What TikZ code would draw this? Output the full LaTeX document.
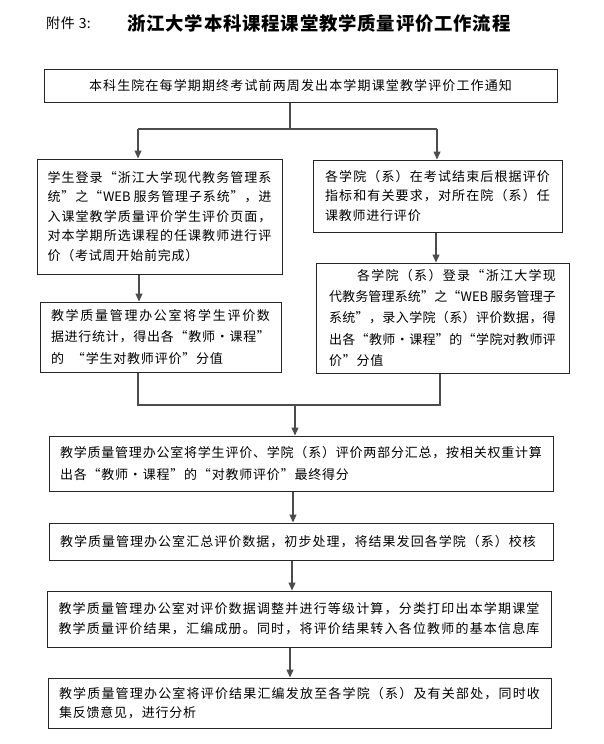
\documentclass[tikz,border=0pt]{standalone}
\usepackage{fontspec}
\setmainfont{Noto Sans CJK SC}
\usetikzlibrary{arrows.meta}
% inter-character glue for CJK text (justification)
\XeTeXinterchartokenstate=1
\newXeTeXintercharclass\myideo
\newXeTeXintercharclass\mypunct
\newcount\myc
\myc="4E00
\loop
  \XeTeXcharclass\myc=\myideo
  \ifnum\myc<"9FFF \advance\myc by 1
\repeat
\XeTeXcharclass"FF08=\mypunct
\XeTeXcharclass"FF09=\mypunct
\XeTeXcharclass"FF0C=\mypunct
\XeTeXcharclass"3001=\mypunct
\XeTeXcharclass"3002=\mypunct
\XeTeXcharclass"201C=\mypunct
\XeTeXcharclass"201D=\mypunct
\XeTeXcharclass"00B7=\mypunct
\def\cjkglue{\hskip0.8pt plus 4pt minus 0.8pt\relax}
\XeTeXinterchartoks\myideo\myideo={\cjkglue}
\XeTeXinterchartoks\myideo\mypunct={\cjkglue}
\XeTeXinterchartoks\mypunct\myideo={\cjkglue}
\XeTeXinterchartoks\mypunct\mypunct={\cjkglue}
\XeTeXinterchartoks 0 \myideo={\cjkglue}
\XeTeXinterchartoks\myideo 0 ={\cjkglue}
\XeTeXinterchartoks 0 \mypunct={\cjkglue}
\XeTeXinterchartoks\mypunct 0 ={\cjkglue}
\newcommand\J[2]{\makebox[#1pt][s]{#2}}
\definecolor{boxline}{gray}{0.15}
\definecolor{connline}{gray}{0.3}
\tikzset{
  box/.style={draw=boxline, line width=1pt, inner sep=0pt, align=left,
    font=\fontsize{13}{19.6}\selectfont},
  conn/.style={draw=connline, line width=1.2pt},
  arr/.style={conn, -{Triangle[length=8pt,width=7pt]}}
}
\begin{document}
\begin{tikzpicture}[x=1pt,y=-1pt]
\useasboundingbox (0,0) rectangle (604,744);
\fill[white] (0,0) rectangle (604,744);
% titles
\node[anchor=west, inner sep=0pt, font=\fontsize{14}{16}\selectfont] (lab) at (46,23) {附件\hspace{4pt}3:};
\node[inner sep=0pt, font=\fontsize{18.4}{22}\selectfont\bfseries] (title) at (319,23) {浙江大学本科课程课堂教学质量评价工作流程};
% boxes
\node[box, minimum width=513, minimum height=33] (n1) at (300.5,85.5)
  {\J{423}{本科生院在每学期期终考试前两周发出本学期课堂教学评价工作通知}};
\node[box, minimum width=245, minimum height=115] (A) at (159.5,216.5)
  {\J{224}{学生登录“浙江大学现代教务管理系}\\
   \J{224}{统”之“WEB 服务管理子系统”，进}\\
   \J{224}{入课堂教学质量评价学生评价页面，}\\
   \J{224}{对本学期所选课程的任课教师进行评}\\
   价（考试周开始前完成）};
\node[box, minimum width=249, minimum height=72] (B) at (437.5,196)
  {\J{225}{各学院（系）在考试结束后根据评价}\\
   \J{225}{指标和有关要求，对所在院（系）任}\\
   课教师进行评价};
\node[box, minimum width=241, minimum height=70, font=\fontsize{13}{21.4}\selectfont] (C) at (160.5,337)
  {\J{219}{教学质量管理办公室将学生评价数}\\
   \J{219}{据进行统计，得出各“教师·课程”}\\
   的\hspace{8pt}“学生对教师评价”分值};
\node[box, minimum width=253, minimum height=110, font=\fontsize{13}{21.3}\selectfont] (D) at (442.5,318)
  {\hspace*{28pt}\J{199}{各学院（系）登录“浙江大学现}\\
   \J{227}{代教务管理系统”之“WEB 服务管理子}\\
   \J{227}{系统”，录入学院（系）评价数据，得}\\
   \J{227}{出各“教师·课程”的“学院对教师评}\\
   价”分值};
\node[box, minimum width=504, minimum height=55, font=\fontsize{13}{22}\selectfont] (E) at (301,463.5)
  {\J{482}{教学质量管理办公室将学生评价、学院（系）评价两部分汇总，按相关权重计算}\\
   出各“教师·课程”的“对教师评价”最终得分};
\node[box, minimum width=504, minimum height=37] (F) at (301,541.5)
  {\makebox[482pt][l]{\J{476}{教学质量管理办公室汇总评价数据，初步处理，将结果发回各学院（系）校核}}};
\node[box, minimum width=504, minimum height=56, font=\fontsize{13}{20}\selectfont] (G) at (299,619)
  {\J{481}{教学质量管理办公室对评价数据调整并进行等级计算，分类打印出本学期课堂}\\
   \J{481}{教学质量评价结果，汇编成册。同时，将评价结果转入各位教师的基本信息库}};
\node[box, minimum width=503, minimum height=50, font=\fontsize{13}{19.5}\selectfont] (H) at (299.5,703)
  {\J{481}{教学质量管理办公室将评价结果汇编发放至各学院（系）及有关部处，同时收}\\
   集反馈意见，进行分析};
% connectors
\coordinate (j1) at (290,129);
\coordinate (jL) at (138,129);
\coordinate (jR) at (437,129);
\draw[conn] (n1.south -| j1) -- (j1);
\draw[conn] (jL) -- (jR);
\draw[arr] (jL) -- (jL |- A.north);
\draw[arr] (jR) -- (jR |- B.north);
\coordinate (xBD) at (436,0);
\draw[arr] (xBD |- B.south) -- (xBD |- D.north);
\coordinate (xAC) at (139,0);
\draw[arr] (xAC |- A.south) -- (xAC |- C.north);
\coordinate (mL) at (138,405);
\coordinate (mR) at (440,405);
\coordinate (mM) at (295,405);
\draw[conn] (mL |- C.south) -- (mL) -- (mR) -- (mR |- D.south);
\draw[arr] (mM) -- (mM |- E.north);
\coordinate (xEF) at (293,0);
\draw[arr] (xEF |- E.south) -- (xEF |- F.north);
\coordinate (xFG) at (292,0);
\draw[arr] (xFG |- F.south) -- (xFG |- G.north);
\coordinate (xGH) at (290,0);
\draw[arr] (xGH |- G.south) -- (xGH |- H.north);
\end{tikzpicture}
\end{document}
